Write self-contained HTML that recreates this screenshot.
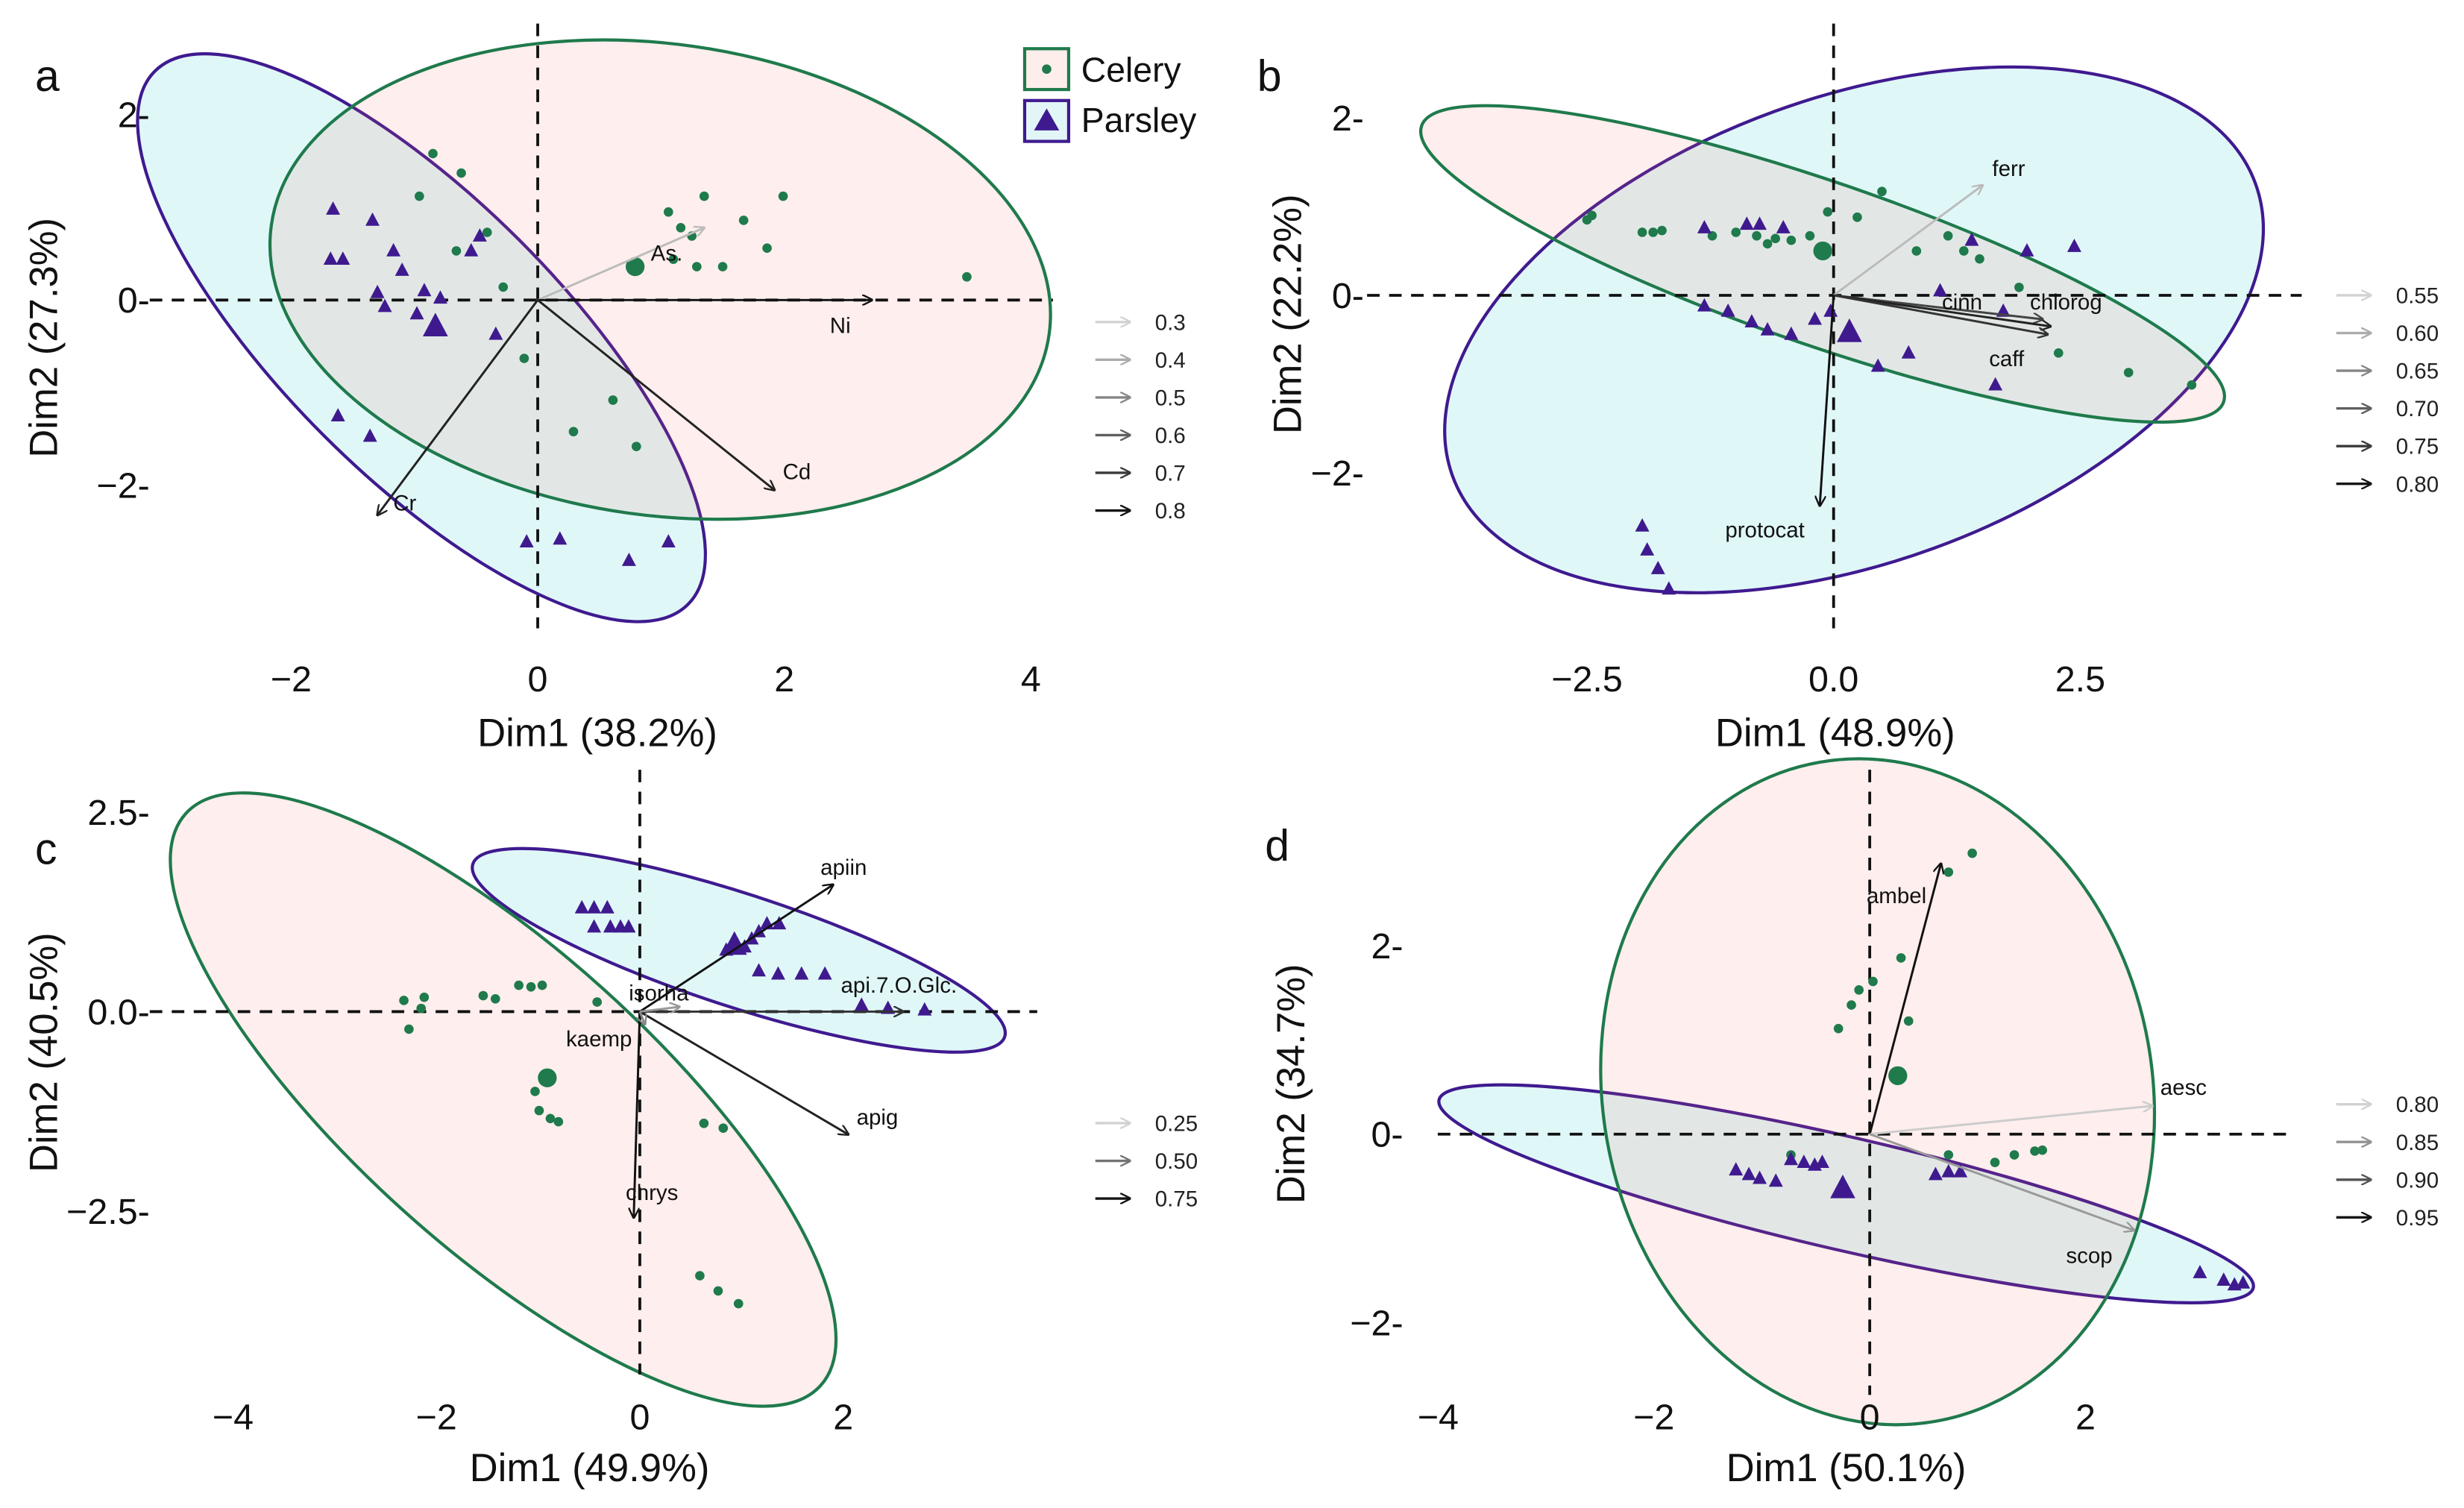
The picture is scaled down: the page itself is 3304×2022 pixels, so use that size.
<!DOCTYPE html>
<html><head><meta charset="utf-8"><style>
html,body{margin:0;padding:0;background:#fff;}
svg{display:block;font-family:"Liberation Sans",sans-serif;}
</style></head><body>
<svg id="fig" width="3304" height="2022" viewBox="0 0 1568 960">
<defs>
<marker id="ah" viewBox="0 0 10 10" refX="9" refY="5" markerWidth="7" markerHeight="7" orient="auto" markerUnits="userSpaceOnUse"><path d="M0,0 L10,5 L0,10" fill="none" stroke="context-stroke" stroke-width="1.6"/></marker>
</defs>
</svg>
<script>
// ---- Panel a data ----
const aCeleryX=[-0.85,-0.62,-0.96,-0.41,-0.66,-0.28,1.06,1.16,1.35,1.67,1.99,1.86,1.50,1.29,1.10,3.48,0.29,0.61,0.80,-0.11,1.25];
const aCeleryY=[1.58,1.37,1.12,0.73,0.53,0.14,0.95,0.78,1.12,0.86,1.12,0.56,0.36,0.36,0.44,0.25,-1.42,-1.08,-1.58,-0.63,0.69];
const aParsX=[-1.66,-1.34,-1.68,-1.58,-1.17,-1.10,-1.30,-1.24,-0.92,-0.98,-0.79,-0.54,-0.47,-1.62,-1.36,-0.09,0.18,0.74,1.06,-0.34];
const aParsY=[0.98,0.86,0.44,0.44,0.53,0.32,0.08,-0.07,0.10,-0.15,0.02,0.53,0.69,-1.25,-1.47,-2.61,-2.58,-2.81,-2.61,-0.37];
const aCentroids=[[0.79,0.36],[-0.83,-0.29]];
const aVarNames=["As.","Ni","Cd","Cr"];
const aVarX=[1.35,2.71,1.92,-1.30];
const aVarY=[0.78,0,-2.05,-2.32];
const aVarShade=["#bbb","#111","#222","#222"];
const aXTicks=[-2,0,2,4];const aYTicks=[2,0,-2];
const aLegend=["0.3","0.4","0.5","0.6","0.7","0.8"];
// ---- Panel b data ----
const bCeleryX=[-2.50,-2.45,-1.94,-1.83,-1.74,-1.23,-0.99,-0.78,-0.67,-0.59,-0.43,-0.24,-0.06,0.24,0.49,0.84,1.16,1.48,2.28,2.99,3.63,1.88,1.32];
const bCeleryY=[0.85,0.90,0.71,0.71,0.73,0.67,0.71,0.67,0.58,0.64,0.62,0.67,0.94,0.88,1.17,0.50,0.67,0.41,-0.65,-0.87,-1.01,0.09,0.50];
const bParsX=[-1.31,-0.88,-0.75,-0.51,-1.31,-1.07,-0.83,-0.67,-0.43,-0.19,-0.03,0.45,0.76,1.40,1.96,2.44,1.64,-1.94,-1.89,-1.78,-1.67,1.08,1.72];
const bParsY=[0.76,0.80,0.80,0.76,-0.12,-0.18,-0.30,-0.39,-0.44,-0.27,-0.18,-0.80,-0.65,0.62,0.50,0.55,-1.01,-2.60,-2.87,-3.08,-3.31,0.05,-0.18];
const bCentroids=[[-0.11,0.50],[0.16,-0.42]];
const bVarNames=["ferr","cinn","chlorog","caff","protocat"];
const bVarX=[1.51,2.12,2.20,2.17,-0.14];
const bVarY=[1.24,-0.27,-0.35,-0.44,-2.37];
const bVarShade=["#bbb","#444","#222","#333","#111"];
const bXTicks=[-2.5,0,2.5];const bYTicks=[2,0,-2];
const bLegend=["0.55","0.60","0.65","0.70","0.75","0.80"];
// ---- Panel c data ----
const cCeleryX=[-2.32,-2.12,-2.15,-2.27,-1.54,-1.42,-1.19,-1.07,-0.96,-0.42,-1.03,-0.99,-0.88,-0.80,0.63,0.82,0.59,0.77,0.97];
const cCeleryY=[0.14,0.18,0.04,-0.22,0.20,0.16,0.33,0.31,0.33,0.12,-1.00,-1.24,-1.34,-1.38,-1.40,-1.46,-3.31,-3.50,-3.66];
const cParsX=[-0.57,-0.45,-0.32,-0.45,-0.29,-0.19,-0.11,0.85,1.03,1.17,1.25,1.37,1.10,1.17,1.36,1.59,1.82,2.18,2.44,2.80];
const cParsY=[1.30,1.30,1.30,1.06,1.06,1.06,1.06,0.77,0.81,1.00,1.10,1.10,0.91,0.51,0.47,0.47,0.47,0.08,0.04,0.02];
const cCentroids=[[-0.91,-0.83],[0.93,0.83]];
const cVarNames=["apiin","api.7.O.Glc.","apig","chrys","isorha","kaemp"];
const cVarX=[1.90,2.59,2.05,-0.06,0.39,0.05];
const cVarY=[1.59,0,-1.54,-2.58,0.06,-0.16];
const cVarShade=["#111","#333","#222","#111","#999","#888"];
const cXTicks=[-4,-2,0,2];const cYTicks=[2.5,0,-2.5];
const cLegend=["0.25","0.50","0.75"];
// ---- Panel d data ----
const dCeleryX=[0.73,0.95,-0.29,-0.17,-0.10,0.03,0.29,0.36,0.73,1.16,1.34,1.53,1.60,-0.73];
const dCeleryY=[2.78,2.98,1.12,1.37,1.53,1.62,1.87,1.20,-0.22,-0.30,-0.22,-0.18,-0.17,-0.22];
const dParsX=[-1.24,-1.12,-1.02,-0.87,-0.73,-0.61,-0.51,-0.44,0.61,0.73,0.84,3.06,3.28,3.38,3.46];
const dParsY=[-0.38,-0.43,-0.47,-0.50,-0.27,-0.30,-0.33,-0.30,-0.43,-0.40,-0.40,-1.47,-1.55,-1.60,-1.58];
const dCentroids=[[0.26,0.62],[-0.25,-0.58]];
const dVarNames=["ambel","aesc","scop"];
const dVarX=[0.66,2.62,2.45];
const dVarY=[2.87,0.30,-1.02];
const dVarShade=["#111","#ccc","#999"];
const dXTicks=[-4,-2,0,2];const dYTicks=[2,0,-2];
const dLegend=["0.80","0.85","0.90","0.95"];

const NS="http://www.w3.org/2000/svg";
const svg=document.getElementById('fig');
const GREEN="#1f7a4c",PURPLE="#3f1a8f";
function mk(tag,at,parent){const e=document.createElementNS(NS,tag);for(const k in at)e.setAttribute(k,at[k]);(parent||svg).appendChild(e);return e;}
function fmt(v,dec){return (v<0?"\u2212":"")+(dec?Math.abs(v).toFixed(1):Math.abs(v));}

function panel(cfg){
  const g=mk('g',{});
  
  
  const X=v=>cfg.x0+cfg.kx*v, Y=v=>cfg.y0-cfg.ky*v;
  cfg.ellipses.forEach((el,i)=>{
    const e=mk('ellipse',{cx:el[0],cy:el[1],rx:el[2],ry:el[3],transform:`rotate(${el[4]} ${el[0]} ${el[1]})`,
      fill:i==0?"rgba(0,191,196,0.12)":"rgba(248,118,109,0.12)",stroke:i==0?PURPLE:GREEN,"stroke-width":2},g);
    
    
  });
  const hl=mk('line',{x1:cfg.hx[0],x2:cfg.hx[1],y1:Y(0),y2:Y(0),stroke:"#111","stroke-width":1.8,"stroke-dasharray":"8,6"},g);
  
  
  const vl=mk('line',{x1:X(0),x2:X(0),y1:cfg.vy[0],y2:cfg.vy[1],stroke:"#111","stroke-width":1.8,"stroke-dasharray":"8,6"},g);
  
  
  cfg.cx.forEach((v,i)=>{
    const c=mk('circle',{cx:X(v),cy:Y(cfg.cy[i]),r:3,fill:GREEN},g);
    
    
  });
  cfg.px.forEach((v,i)=>{
    const x=X(v),y=Y(cfg.py[i]);
    const t=mk('polygon',{points:`${x},${y-5} ${x-4.5},${y+3.5} ${x+4.5},${y+3.5}`,fill:PURPLE},g);
    
    
  });
  const c0=cfg.cent[0],c1=cfg.cent[1];
  const cc=mk('circle',{cx:X(c0[0]),cy:Y(c0[1]),r:6,fill:GREEN},g);
  
  
  const px=X(c1[0]),py=Y(c1[1]);
  const pc=mk('polygon',{points:`${px},${py-9} ${px-8},${py+6} ${px+8},${py+6}`,fill:PURPLE},g);
  
  
  cfg.vn.forEach((n,i)=>{
    const a=mk('line',{x1:X(0),y1:Y(0),x2:X(cfg.vx[i]),y2:Y(cfg.vy2[i]),stroke:cfg.vs[i],"stroke-width":1.4,"marker-end":"url(#ah)"},g);
    
    
    const l=cfg.lab[i];
    const t=mk('text',{x:l[0],y:l[1],"font-size":14,fill:"#111"},g);t.textContent=n;
    
    
  });
  cfg.xt.forEach(v=>{
    const t=mk('text',{x:X(v),y:cfg.xty,"font-size":23,"text-anchor":"middle",fill:"#111"},g);
    t.textContent=fmt(v,cfg.xdec);
    
    
  });
  cfg.yt.forEach(v=>{
    const t=mk('text',{x:cfg.ytx,y:Y(v)+8,"font-size":23,"text-anchor":"end",fill:"#111"},g);
    t.textContent=fmt(v,cfg.ydec)+"-";
    
    
  });
  const xt=mk('text',{x:cfg.xtitle[0],y:cfg.xtitle[1],"font-size":25,"text-anchor":"middle",fill:"#111"},g);
  xt.textContent=cfg.xlab;
  
  
  const yt=mk('text',{x:cfg.ytitle[0],y:cfg.ytitle[1],"font-size":25,"text-anchor":"middle",fill:"#111",transform:`rotate(-90 ${cfg.ytitle[0]} ${cfg.ytitle[1]})`},g);
  yt.textContent=cfg.ylab;
  
  
  const pl=mk('text',{x:cfg.plab[0],y:cfg.plab[1],"font-size":28,fill:"#111"},g);
  pl.textContent=cfg.id;
  
  
  const n=cfg.leg.length;
  cfg.leg.forEach((s,i)=>{
    const y=cfg.legy+i*24;
    const sh=Math.round(210-(190*i/(n-1)));
    const col=`rgb(${sh},${sh},${sh})`;
    const a=mk('line',{x1:cfg.legx,y1:y,x2:cfg.legx+22,y2:y,stroke:col,"stroke-width":1.6,"marker-end":"url(#ah)"},g);
    
    
    const t=mk('text',{x:cfg.legx+38,y:y+5,"font-size":14,fill:"#222"},g);t.textContent=s;
    
    
  });
}

panel({id:"a",x0:342,kx:78.5,y0:191,ky:59,hx:[95,670],vy:[15,400],
 ellipses:[[268,215,240,88,45],[420,178,250,150,8]],
 cx:aCeleryX,cy:aCeleryY,px:aParsX,py:aParsY,cent:aCentroids,
 vn:aVarNames,vx:aVarX,vy2:aVarY,vs:aVarShade,lab:[[414,166],[528,212],[498,305],[250,325]],
 xt:aXTicks,yt:aYTicks,xdec:false,ydec:false,xty:440,ytx:95,xtitle:[380,475],ytitle:[36,215],xlab:"Dim1 (38.2%)",ylab:"Dim2 (27.3%)",
 plab:[22,58],leg:aLegend,legx:697,legy:205});
panel({id:"b",x0:1167,kx:62.8,y0:188,ky:56.5,hx:[870,1465],vy:[15,400],
 ellipses:[[1180,210,272,148,-20],[1160,168,270,52,19]],
 cx:bCeleryX,cy:bCeleryY,px:bParsX,py:bParsY,cent:bCentroids,
 vn:bVarNames,vx:bVarX,vy2:bVarY,vs:bVarShade,lab:[[1268,112],[1236,197],[1292,197],[1266,233],[1098,342]],
 xt:bXTicks,yt:bYTicks,xdec:true,ydec:false,xty:440,ytx:868,xtitle:[1168,475],ytitle:[828,200],xlab:"Dim1 (48.9%)",ylab:"Dim2 (22.2%)",
 plab:[800,58],leg:bLegend,legx:1487,legy:188});
panel({id:"c",x0:407,kx:64.75,y0:644,ky:50.8,hx:[95,660],vy:[490,875],
 ellipses:[[470,605,178,36,18],[320,700,272,95,42]],
 cx:cCeleryX,cy:cCeleryY,px:cParsX,py:cParsY,cent:cCentroids,
 vn:cVarNames,vx:cVarX,vy2:cVarY,vs:cVarShade,lab:[[522,557],[535,632],[545,716],[398,764],[400,637],[360,666]],
 xt:cXTicks,yt:cYTicks,xdec:false,ydec:true,xty:910,ytx:95,xtitle:[375,943],ytitle:[36,670],xlab:"Dim1 (49.9%)",ylab:"Dim2 (40.5%)",
 plab:[22,550],leg:cLegend,legx:697,legy:715});
panel({id:"d",x0:1190,kx:68.7,y0:722,ky:60,hx:[915,1460],vy:[490,888],
 ellipses:[[1175,760,266,36,13],[1195,695,175,213,-10]],
 cx:dCeleryX,cy:dCeleryY,px:dParsX,py:dParsY,cent:dCentroids,
 vn:dVarNames,vx:dVarX,vy2:dVarY,vs:dVarShade,lab:[[1188,575],[1375,697],[1315,804]],
 xt:dXTicks,yt:dYTicks,xdec:false,ydec:false,xty:910,ytx:893,xtitle:[1175,943],ytitle:[830,690],xlab:"Dim1 (50.1%)",ylab:"Dim2 (34.7%)",
 plab:[805,548],leg:dLegend,legx:1487,legy:703});

const lg=mk('g',{});


const r1=mk('rect',{x:652,y:31,width:28,height:26,fill:"#fdeeec",stroke:GREEN,"stroke-width":2},lg);


const d1=mk('circle',{cx:666,cy:44,r:3,fill:GREEN},lg);


const t1=mk('text',{x:688,y:52,"font-size":22,fill:"#111"},lg);t1.textContent="Celery";


const r2=mk('rect',{x:652,y:64,width:28,height:26,fill:"#e2f6f8",stroke:PURPLE,"stroke-width":2},lg);


const p2=mk('polygon',{points:"666,69 658,83 674,83",fill:PURPLE},lg);


const t2=mk('text',{x:688,y:84,"font-size":22,fill:"#111"},lg);t2.textContent="Parsley";


</script>
</body></html>
